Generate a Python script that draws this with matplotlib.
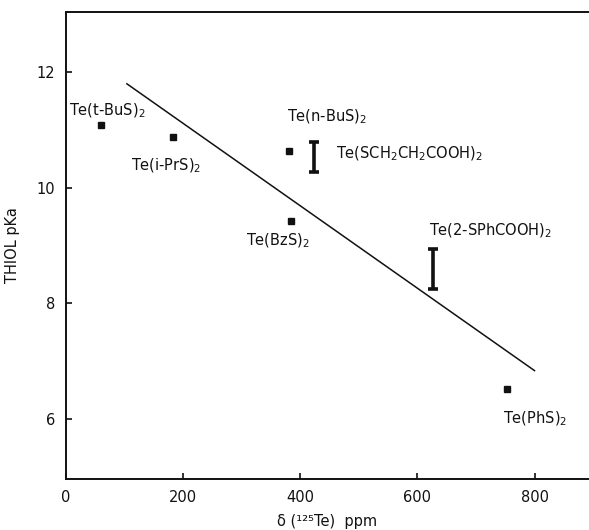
import matplotlib.pyplot as plt

# data
point_names = ["Te(t-BuS)$_2$", "Te(i-PrS)$_2$", "Te(n-BuS)$_2$", "Te(BzS)$_2$", "Te(PhS)$_2$"]
point_shift = [60, 182, 380, 385, 753]
point_pka = [11.09, 10.88, 10.63, 9.43, 6.52]

range_names = ["Te(SCH$_2$CH$_2$COOH)$_2$", "Te(2-SPhCOOH)$_2$"]
range_shift = [424, 626]
range_low = [10.28, 8.25]
range_high = [10.80, 8.93]

fit_shift = [104, 800]
fit_pka = [11.80, 6.83]

# label anchors (data coords, left / centre)
LABEL_POS = {
    "Te(t-BuS)$_2$": (5, 11.33),
    "Te(i-PrS)$_2$": (111, 10.38),
    "Te(n-BuS)$_2$": (377, 11.22),
    "Te(BzS)$_2$": (307, 9.08),
    "Te(PhS)$_2$": (746, 6.00),
    "Te(SCH$_2$CH$_2$COOH)$_2$": (461, 10.58),
    "Te(2-SPhCOOH)$_2$": (620, 9.25),
}

INK = "#111111"

fig = plt.figure(figsize=(5.89, 5.30), dpi=100)
ax = fig.add_axes([0.112, 0.096, 0.888, 0.882])

ax.plot(fit_shift, fit_pka, color=INK, linewidth=1.1)
ax.plot(point_shift, point_pka, "s", color=INK, markersize=4.8)

mid = [(lo + hi) / 2 for lo, hi in zip(range_low, range_high)]
half = [(hi - lo) / 2 for lo, hi in zip(range_low, range_high)]
ax.errorbar(range_shift, mid, yerr=half, fmt="none", ecolor=INK,
            elinewidth=2.6, capsize=3.6, capthick=2.6)

for name in point_names + range_names:
    x, y = LABEL_POS[name]
    ax.text(x, y, name, ha="left", va="center", fontsize=10.5, color=INK)

ax.set_xlim(0, 893)
ax.set_ylim(4.95, 13.05)
ax.set_xticks([0, 200, 400, 600, 800])
ax.set_yticks([6, 8, 10, 12])
ax.tick_params(direction="in", length=4, width=1.2, labelsize=10.5,
               colors=INK, pad=8)

for side in ("left", "bottom", "top"):
    ax.spines[side].set_linewidth(1.4)
    ax.spines[side].set_color(INK)
ax.spines["right"].set_visible(False)

ax.set_xlabel("δ (¹²⁵Te)  ppm", fontsize=10.5, color=INK, labelpad=6)
ax.set_ylabel("THIOL pKa", fontsize=10.5, color=INK, labelpad=12)

fig.savefig("out.png", dpi=100, facecolor="white")
